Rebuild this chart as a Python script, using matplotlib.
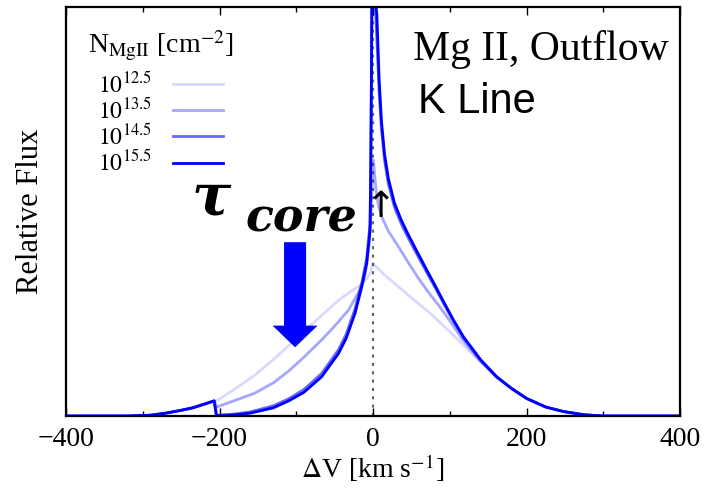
import matplotlib
matplotlib.use("Agg")
import matplotlib.pyplot as plt
from matplotlib.patches import FancyArrow
from matplotlib.ticker import MultipleLocator

plt.rcParams["font.family"] = "serif"
plt.rcParams["font.serif"] = ["Liberation Serif", "DejaVu Serif"]
plt.rcParams["mathtext.fontset"] = "stix"

# shared blue wing below -200 km/s
v_wing = [-400, -320, -290, -270, -250, -235, -220, -207]
f_wing = [0.0, 0.0, 0.002, 0.007, 0.014, 0.020, 0.029, 0.037]

# shared red tail
v_tail = [180, 200, 225, 248, 275, 300, 400]
f_tail = [0.068, 0.043, 0.022, 0.011, 0.003, 0.0, 0.0]

# N = 10^12.5
v_125 = [-204, -180, -154, -130, -110, -90, -67, -45, -30, -15, -8, -3, 0,
         5, 15, 33, 50, 74, 95, 117, 140, 161]
f_125 = [0.037, 0.066, 0.100, 0.138, 0.172, 0.207, 0.246, 0.283, 0.303, 0.322,
         0.337, 0.352, 0.373, 0.363, 0.345, 0.316, 0.289, 0.252, 0.215, 0.175,
         0.132, 0.096]

# N = 10^13.5
v_135 = [-204, -180, -154, -130, -110, -90, -67, -50, -32, -15, -10, -5, -2.5,
         -0.5, 0.5, 2, 4, 7, 11.3, 20, 33, 46, 59, 74, 85, 100, 117, 140, 161]
f_135 = [0.022, 0.038, 0.056, 0.081, 0.110, 0.144, 0.186, 0.220, 0.259, 0.316,
         0.350, 0.420, 0.500, 0.600, 0.626, 0.590, 0.550, 0.515, 0.487, 0.452,
         0.414, 0.375, 0.337, 0.298, 0.272, 0.233, 0.186, 0.134, 0.096]

# N = 10^14.5
v_145 = [-204, -180, -160, -130, -110, -90, -67, -45, -35, -23.5, -14.7, -8.3,
         -3.9, -3, -2, -1.3, 1.8, 4.5, 8, 11, 15, 20, 28, 37, 46, 57,
         68, 80, 94, 105, 118, 140, 161]
f_145 = [0.002, 0.005, 0.010, 0.025, 0.042, 0.065, 0.104, 0.162, 0.200, 0.262,
         0.325, 0.385, 0.470, 0.620, 0.850, 1.050, 1.050, 0.940, 0.790, 0.700,
         0.625, 0.567, 0.510, 0.469, 0.435, 0.396, 0.358, 0.317, 0.268,
         0.231, 0.191, 0.137, 0.095]

# N = 10^15.5
v_155 = [-204, -180, -160, -130, -110, -90, -67, -45, -35, -23.5, -14.7, -8.3,
         -3.9, -3, -2.2, -1.5, 1.5, 5, 8, 11, 15, 20, 28, 37, 46, 57,
         68, 80, 94, 105, 118, 140, 161]
f_155 = [0.0, 0.003, 0.007, 0.020, 0.037, 0.058, 0.096, 0.153, 0.190, 0.251,
         0.316, 0.373, 0.455, 0.600, 0.800, 1.050, 1.050, 0.980, 0.820, 0.720,
         0.640, 0.580, 0.520, 0.478, 0.443, 0.403, 0.364, 0.322, 0.272,
         0.234, 0.193, 0.138, 0.096]

labels = [r"$10^{12.5}$", r"$10^{13.5}$", r"$10^{14.5}$", r"$10^{15.5}$"]
alphas = [0.15, 0.35, 0.6, 1.0]
curves = [(v_125, f_125), (v_135, f_135), (v_145, f_145), (v_155, f_155)]

fig = plt.figure(figsize=(7.04, 4.91), dpi=100)
ax = fig.add_axes([0.0938, 0.1527, 0.8722, 0.833])

ax.axvline(0, color="0.4", ls=(0, (1.5, 2.5)), lw=1.5, zorder=1)

handles = []
for (v, f), lab, a in zip(curves, labels, alphas):
    line, = ax.plot(v_wing + v + v_tail, f_wing + f + f_tail, color="blue",
                    alpha=a, lw=2.0, label=lab, zorder=2)
    handles.append(line)

ax.set_xlim(-400, 400)
ax.set_ylim(0, 1)
ax.xaxis.set_major_locator(MultipleLocator(200))
ax.xaxis.set_minor_locator(MultipleLocator(100))
ax.set_yticks([])
ax.tick_params(axis="x", which="both", direction="in", top=True, labelsize=20,
               pad=8)
ax.tick_params(axis="x", which="major", length=6, width=1)
ax.tick_params(axis="x", which="minor", length=3.5, width=1)
for sp in ax.spines.values():
    sp.set_linewidth(1.6)

ax.set_xlabel(r"$\Delta$V [km s$^{-1}$]", fontsize=20, labelpad=0)
ax.set_ylabel("Relative Flux", fontsize=22, labelpad=15)

# legend entries; the column-density heading is placed as its own text
ax.legend(handles=handles, loc="upper left", bbox_to_anchor=(0.052, 0.843),
          frameon=False, markerfirst=False, fontsize=17,
          handlelength=2.12, handletextpad=0.89, labelspacing=0.02,
          borderpad=0, borderaxespad=0)
ax.text(0.036, 0.8875, r"N$_{\rm MgII}$ [cm$^{-2}$]", transform=ax.transAxes,
        fontsize=20, ha="left", va="baseline")

ax.text(0.565, 0.870, "Mg II, Outflow", transform=ax.transAxes, fontsize=30,
        ha="left", va="baseline")
ax.text(0.573, 0.741, "K Line", transform=ax.transAxes, fontsize=30,
        family="Liberation Sans", ha="left", va="baseline")

ax.text(0.205, 0.491, "τ", transform=ax.transAxes, fontsize=42,
        family="DejaVu Serif", fontweight="bold", fontstyle="italic",
        ha="left", va="baseline")
ax.text(0.2915, 0.45, "core", transform=ax.transAxes, fontsize=33,
        family="DejaVu Serif", fontweight="bold", fontstyle="italic",
        ha="left", va="baseline")
ax.text(0.513, 0.51, "↑", transform=ax.transAxes, fontsize=26,
        family="DejaVu Sans", ha="center", va="center")

ax.add_patch(FancyArrow(-101.6, 0.425, 0, -0.257, width=28.7, head_width=58.6,
                        head_length=0.053, length_includes_head=True,
                        color="blue", lw=0, zorder=3))

fig.savefig("out.png", dpi=100)
